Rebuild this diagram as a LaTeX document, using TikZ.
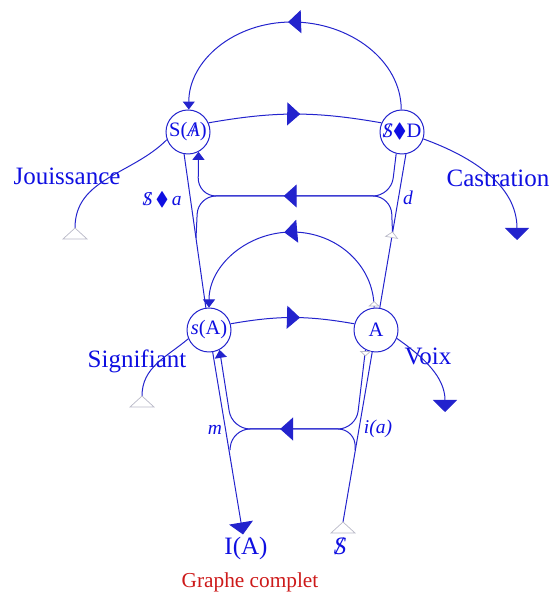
\documentclass[tikz,border=0pt]{standalone}
\usepackage{amssymb}
\usepackage{fontspec}
\setmainfont{Liberation Serif}
\usetikzlibrary{arrows.meta,decorations.markings}

\definecolor{lac}{RGB}{35,35,205}
\definecolor{ink}{RGB}{15,15,225}
\definecolor{tailgrey}{RGB}{185,185,200}
\definecolor{titlered}{RGB}{205,25,25}

\newcommand{\barS}{\ooalign{\textit{S}\cr\hidewidth\textit{/}\hidewidth\cr}}
\newcommand{\barA}{\ooalign{\textit{A}\cr\hidewidth/\hidewidth\cr}}

\begin{document}
\begin{tikzpicture}[x=1pt,y=1pt,
  wire/.style={color=lac,line width=1pt},
  spot/.style={circle,draw=lac,line width=1pt,minimum size=44pt,inner sep=0pt,text=ink,font=\fontsize{20.5}{20.5}\selectfont},
  lbl/.style={text=ink,font=\fontsize{25}{25}\selectfont,inner sep=0pt},
  sml/.style={text=ink,font=\itshape\fontsize{19.5}{19.5}\selectfont,inner sep=0pt},
  into/.style={-{Triangle[length=8pt,width=12pt]}},
  bigtip/.style={-{Triangle[length=12pt,width=24pt]}},
  midarrow/.style={postaction={decorate,decoration={markings,mark=at position #1 with {\arrow{Triangle[length=13pt,width=23pt]}}}}},
  lens/.style={rounded corners=18pt},
  tailtri/.pic={\draw[draw=tailgrey,fill=white,line width=0.7pt] (0,0) -- (-12pt,-11pt) -- (12pt,-11pt) -- cycle;}]
\useasboundingbox (0,0) rectangle (550,594);

% ---------- points of the graph ----------
\node[spot] (SA) at (188,462) {S(\barA)};
\node[spot] (SD) at (402,462) {\barS$\blacklozenge$D};
\node[spot] (sA) at (209,264) {\textit{s}(A)};
\node[spot] (A)  at (376,264) {A};

% ---------- texts ----------
\node[lbl,anchor=base] (jouis) at (67,409) {Jouissance};
\node[lbl,anchor=base] (castr) at (498,407) {Castration};
\node[lbl,anchor=base] (signi) at (137,226) {Signifiant};
\node[lbl,anchor=base] (voix)  at (428,229) {Voix};
\node[lbl,anchor=base,inner sep=3pt] (IA) at (246,39) {I(A)};
\node[lbl,anchor=base] (Sb) at (340,39) {\barS};
\node[sml,anchor=base] (fant) at (162,388) {\barS\,$\blacklozenge$\,a};
\node[sml,anchor=base] (dlbl) at (408,389) {d};
\node[sml,anchor=base] (mlbl) at (215,159) {m};
\node[sml,anchor=base] (ia)   at (378,160) {i(a)};
\node[anchor=base,text=titlered,font=\fontsize{21.3}{21.3}\selectfont] (title) at (250,6) {Graphe complet};

% free ends and corners
\coordinate (arcTop) at (292,572);
\coordinate (midTop) at (292,362);
\coordinate (jtail) at (75,366);
\coordinate (stail) at (142,198);
\coordinate (ctip) at (517,354);
\coordinate (vtip) at (445,182);
\coordinate (btail) at (343,72);
\coordinate (dtail) at (392.5,362);
\coordinate (URc) at (391,398);
\coordinate (ULc) at (198,398);
\coordinate (ULm) at (196,356);
\coordinate (LRc) at (356,165);
\coordinate (LLc) at (232,165);
\coordinate (LRm) at (355,144);
\coordinate (LLm) at (230,144);

% ---------- upper chain ----------
\draw[wire,midarrow=0.53] (SA.24) to[bend left=10] (SD.156);
\draw[wire,midarrow=0.52,into] (SD.92) .. controls +(0,49) and +(58,0) .. (arcTop) .. controls +(-58,0) and +(0,49) .. (SA.88);
\draw[wire] (jtail) to[out=90,in=225] (SA.200);
\draw[wire,bigtip] (SD.-18) to[out=-20,in=90] (ctip);

% ---------- lower chain ----------
\draw[wire,midarrow=0.56] (sA.16) to[bend left=10] (A.164);
\draw[wire,midarrow=0.53,into] (A.95) .. controls +(0,42) and +(45,0) .. (midTop) .. controls +(-45,0) and +(0,42) .. (sA.90);
\draw[wire] (stail) to[out=90,in=220] (sA.203);
\draw[wire,bigtip] (A.-22) to[out=-35,in=90] (vtip);

% ---------- the two long vectors ----------
\draw[wire] (SA.-100) -- (sA);
\draw[wire,bigtip] (sA) -- ([xshift=-3pt]IA.north);
\draw[wire] (btail) -- (A);
\draw[wire] (A) -- (SD.-80);

% ---------- lenses ----------
\draw[wire,lens,midarrow=0.54,into] (SD.-105) -- (URc) -- (ULc) -- (SA.-62);
\draw[wire,lens] (dtail) -- (URc) -- (ULc) -- (ULm);
\draw[wire,lens,midarrow=0.55,into] (A.-118) -- (LRc) -- (LLc) -- (sA.-62);
\draw[wire,lens] (LRm) -- (LRc) -- (LLc) -- (LLm);

% tails
\pic at (jtail) {tailtri};
\pic at (stail) {tailtri};
\pic at (btail) {tailtri};
\pic[scale=0.5,rotate=-10] at (dtail) {tailtri};
\pic[scale=0.4] at ([yshift=6pt]A.95) {tailtri};
\pic[scale=0.4,rotate=180] at ([yshift=-6pt]A.-118) {tailtri};
\end{tikzpicture}
\end{document}
